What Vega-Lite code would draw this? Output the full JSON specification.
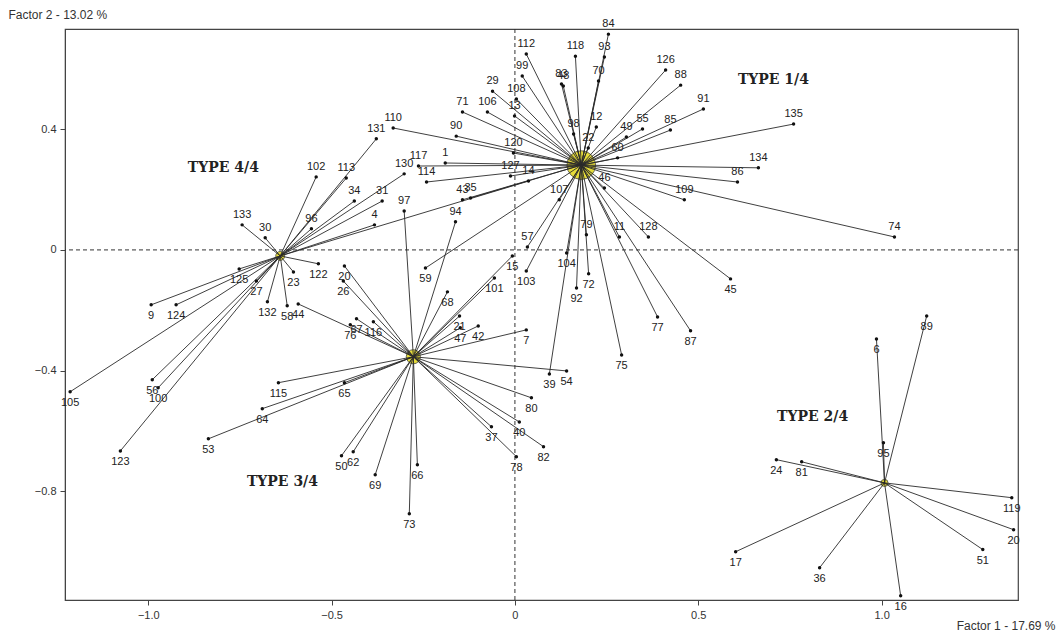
{
  "$schema": "https://vega.github.io/schema/vega-lite/v6.json",
  "width": 953,
  "height": 571,
  "autosize": {"type": "none"},
  "padding": {"left": 65, "top": 29, "right": 45, "bottom": 41},
  "background": "white",
  "config": {
    "view": {"stroke": "#444", "strokeWidth": 1.2},
    "axis": {"grid": false, "domainColor": "#444", "tickColor": "#444", "tickSize": 5, "labelPadding": 4,
      "labelFont": "Liberation Sans", "labelFontSize": 11, "labelColor": "#333",
      "titleFont": "Liberation Sans", "titleFontSize": 12, "titleFontWeight": "normal", "titleColor": "#333"}
  },
  "datasets": {
    "points": [
      {"id": "112", "x": 0.031, "y": 0.649, "type": "T1"},
      {"id": "99", "x": 0.020, "y": 0.576, "type": "T1"},
      {"id": "118", "x": 0.165, "y": 0.642, "type": "T1"},
      {"id": "84", "x": 0.255, "y": 0.715, "type": "T1"},
      {"id": "93", "x": 0.244, "y": 0.639, "type": "T1"},
      {"id": "83", "x": 0.127, "y": 0.550, "type": "T1"},
      {"id": "48", "x": 0.132, "y": 0.543, "type": "T1"},
      {"id": "70", "x": 0.228, "y": 0.560, "type": "T1"},
      {"id": "126", "x": 0.411, "y": 0.596, "type": "T1"},
      {"id": "88", "x": 0.452, "y": 0.546, "type": "T1"},
      {"id": "98", "x": 0.160, "y": 0.384, "type": "T1"},
      {"id": "12", "x": 0.222, "y": 0.407, "type": "T1"},
      {"id": "22", "x": 0.200, "y": 0.338, "type": "T1"},
      {"id": "49", "x": 0.304, "y": 0.374, "type": "T1"},
      {"id": "55", "x": 0.348, "y": 0.401, "type": "T1"},
      {"id": "85", "x": 0.424, "y": 0.397, "type": "T1"},
      {"id": "60", "x": 0.280, "y": 0.305, "type": "T1"},
      {"id": "108", "x": 0.004, "y": 0.500, "type": "T1"},
      {"id": "29", "x": -0.061, "y": 0.526, "type": "T1"},
      {"id": "13", "x": -0.001, "y": 0.444, "type": "T1"},
      {"id": "106", "x": -0.075, "y": 0.457, "type": "T1"},
      {"id": "71", "x": -0.143, "y": 0.457, "type": "T1"},
      {"id": "110", "x": -0.332, "y": 0.404, "type": "T1"},
      {"id": "90", "x": -0.160, "y": 0.377, "type": "T1"},
      {"id": "120", "x": -0.004, "y": 0.321, "type": "T1"},
      {"id": "1", "x": -0.190, "y": 0.288, "type": "T1"},
      {"id": "117", "x": -0.263, "y": 0.278, "type": "T1"},
      {"id": "127", "x": -0.012, "y": 0.245, "type": "T1"},
      {"id": "114", "x": -0.241, "y": 0.225, "type": "T1"},
      {"id": "35", "x": -0.121, "y": 0.172, "type": "T1"},
      {"id": "43", "x": -0.143, "y": 0.166, "type": "T1"},
      {"id": "46", "x": 0.244, "y": 0.205, "type": "T1"},
      {"id": "109", "x": 0.462, "y": 0.166, "type": "T1"},
      {"id": "128", "x": 0.364, "y": 0.043, "type": "T1"},
      {"id": "107", "x": 0.121, "y": 0.166, "type": "T1"},
      {"id": "57", "x": 0.034, "y": 0.010, "type": "T1"},
      {"id": "91", "x": 0.514, "y": 0.467, "type": "T1"},
      {"id": "135", "x": 0.760, "y": 0.417, "type": "T1"},
      {"id": "134", "x": 0.664, "y": 0.272, "type": "T1"},
      {"id": "86", "x": 0.607, "y": 0.225, "type": "T1"},
      {"id": "74", "x": 1.035, "y": 0.043, "type": "T1"},
      {"id": "104", "x": 0.141, "y": -0.010, "type": "T1"},
      {"id": "39", "x": 0.094, "y": -0.411, "type": "T1"},
      {"id": "79", "x": 0.195, "y": 0.050, "type": "T1"},
      {"id": "72", "x": 0.201, "y": -0.079, "type": "T1"},
      {"id": "92", "x": 0.168, "y": -0.126, "type": "T1"},
      {"id": "11", "x": 0.285, "y": 0.043, "type": "T1"},
      {"id": "77", "x": 0.389, "y": -0.222, "type": "T1"},
      {"id": "87", "x": 0.479, "y": -0.268, "type": "T1"},
      {"id": "75", "x": 0.291, "y": -0.348, "type": "T1"},
      {"id": "45", "x": 0.588, "y": -0.096, "type": "T1"},
      {"id": "103", "x": 0.031, "y": -0.070, "type": "T1"},
      {"id": "59", "x": -0.244, "y": -0.060, "type": "T1"},
      {"id": "102", "x": -0.542, "y": 0.242, "type": "T4"},
      {"id": "113", "x": -0.460, "y": 0.238, "type": "T4"},
      {"id": "34", "x": -0.438, "y": 0.162, "type": "T4"},
      {"id": "31", "x": -0.362, "y": 0.162, "type": "T4"},
      {"id": "96", "x": -0.555, "y": 0.070, "type": "T4"},
      {"id": "30", "x": -0.681, "y": 0.040, "type": "T4"},
      {"id": "133", "x": -0.744, "y": 0.083, "type": "T4"},
      {"id": "4", "x": -0.383, "y": 0.083, "type": "T4"},
      {"id": "130", "x": -0.302, "y": 0.252, "type": "T4"},
      {"id": "131", "x": -0.378, "y": 0.368, "type": "T4"},
      {"id": "125", "x": -0.752, "y": -0.063, "type": "T4"},
      {"id": "9", "x": -0.992, "y": -0.182, "type": "T4"},
      {"id": "124", "x": -0.924, "y": -0.182, "type": "T4"},
      {"id": "27", "x": -0.705, "y": -0.103, "type": "T4"},
      {"id": "105", "x": -1.213, "y": -0.470, "type": "T4"},
      {"id": "100", "x": -0.973, "y": -0.457, "type": "T4"},
      {"id": "56", "x": -0.989, "y": -0.430, "type": "T4"},
      {"id": "123", "x": -1.076, "y": -0.666, "type": "T4"},
      {"id": "132", "x": -0.675, "y": -0.172, "type": "T4"},
      {"id": "23", "x": -0.604, "y": -0.073, "type": "T4"},
      {"id": "58", "x": -0.621, "y": -0.185, "type": "T4"},
      {"id": "122", "x": -0.536, "y": -0.046, "type": "T4"},
      {"id": "14", "x": 0.037, "y": 0.228, "type": "T4"},
      {"id": "94", "x": -0.162, "y": 0.093, "type": "T3"},
      {"id": "97", "x": -0.302, "y": 0.129, "type": "T3"},
      {"id": "44", "x": -0.591, "y": -0.179, "type": "T3"},
      {"id": "20", "x": -0.465, "y": -0.053, "type": "T3"},
      {"id": "26", "x": -0.468, "y": -0.103, "type": "T3"},
      {"id": "76", "x": -0.449, "y": -0.248, "type": "T3"},
      {"id": "67", "x": -0.432, "y": -0.228, "type": "T3"},
      {"id": "116", "x": -0.386, "y": -0.238, "type": "T3"},
      {"id": "68", "x": -0.184, "y": -0.139, "type": "T3"},
      {"id": "21", "x": -0.151, "y": -0.219, "type": "T3"},
      {"id": "47", "x": -0.149, "y": -0.258, "type": "T3"},
      {"id": "42", "x": -0.100, "y": -0.252, "type": "T3"},
      {"id": "7", "x": 0.031, "y": -0.265, "type": "T3"},
      {"id": "101", "x": -0.056, "y": -0.093, "type": "T3"},
      {"id": "15", "x": -0.007, "y": -0.020, "type": "T3"},
      {"id": "54", "x": 0.141, "y": -0.401, "type": "T3"},
      {"id": "80", "x": 0.045, "y": -0.490, "type": "T3"},
      {"id": "40", "x": 0.012, "y": -0.570, "type": "T3"},
      {"id": "37", "x": -0.064, "y": -0.586, "type": "T3"},
      {"id": "78", "x": 0.004, "y": -0.685, "type": "T3"},
      {"id": "82", "x": 0.078, "y": -0.652, "type": "T3"},
      {"id": "66", "x": -0.266, "y": -0.712, "type": "T3"},
      {"id": "73", "x": -0.288, "y": -0.874, "type": "T3"},
      {"id": "69", "x": -0.381, "y": -0.745, "type": "T3"},
      {"id": "62", "x": -0.441, "y": -0.669, "type": "T3"},
      {"id": "50", "x": -0.473, "y": -0.682, "type": "T3"},
      {"id": "65", "x": -0.465, "y": -0.440, "type": "T3"},
      {"id": "115", "x": -0.645, "y": -0.440, "type": "T3"},
      {"id": "64", "x": -0.689, "y": -0.526, "type": "T3"},
      {"id": "53", "x": -0.836, "y": -0.626, "type": "T3"},
      {"id": "89", "x": 1.123, "y": -0.219, "type": "T2"},
      {"id": "6", "x": 0.986, "y": -0.295, "type": "T2"},
      {"id": "95", "x": 1.005, "y": -0.639, "type": "T2"},
      {"id": "81", "x": 0.782, "y": -0.702, "type": "T2"},
      {"id": "24", "x": 0.713, "y": -0.695, "type": "T2"},
      {"id": "119", "x": 1.355, "y": -0.821, "type": "T2"},
      {"id": "20", "x": 1.360, "y": -0.927, "type": "T2"},
      {"id": "51", "x": 1.276, "y": -0.993, "type": "T2"},
      {"id": "16", "x": 1.052, "y": -1.146, "type": "T2"},
      {"id": "36", "x": 0.831, "y": -1.053, "type": "T2"},
      {"id": "17", "x": 0.602, "y": -1.000, "type": "T2"}
    ],
    "centers": [
      {"type": "T1", "cx": 0.181, "cy": 0.281},
      {"type": "T4", "cx": -0.640, "cy": -0.020},
      {"type": "T3", "cx": -0.277, "cy": -0.354},
      {"type": "T2", "cx": 1.008, "cy": -0.772}
    ],
    "types": [
      {"name": "TYPE 1/4", "x": 0.705, "y": 0.563},
      {"name": "TYPE 4/4", "x": -0.795, "y": 0.272},
      {"name": "TYPE 3/4", "x": -0.634, "y": -0.768},
      {"name": "TYPE 2/4", "x": 0.812, "y": -0.552}
    ]
  },
  "data": {"name": "points"},
  "layer": [
    {
      "data": {"values": [{}]},
      "mark": {"type": "rule", "color": "#333", "strokeDash": [4, 3], "strokeWidth": 1},
      "encoding": {
        "x": {"datum": 0, "type": "quantitative",
          "scale": {"domain": [-1.227, 1.372], "nice": false, "zero": false},
          "axis": {"values": [-1, -0.5, 0, 0.5, 1],
            "labelExpr": "datum.value == 0 ? '0' : format(datum.value, '.1f')",
            "title": "Factor 1  -  17.69 %", "titleX": 990, "titleY": 25, "titleAlign": "right", "titleBaseline": "middle"}}
      }
    },
    {
      "data": {"values": [{}]},
      "mark": {"type": "rule", "color": "#333", "strokeDash": [4, 3], "strokeWidth": 1},
      "encoding": {
        "y": {"datum": 0, "type": "quantitative",
          "scale": {"domain": [-1.16, 0.732], "nice": false, "zero": false},
          "axis": {"values": [-0.8, -0.4, 0, 0.4],
            "labelExpr": "datum.value == 0 ? '0' : format(datum.value, '.1f')",
            "title": "Factor 2  -  13.02 %", "titleAngle": 0, "titleX": -57, "titleY": -15, "titleAlign": "left", "titleBaseline": "middle"}}
      }
    },
    {
      "data": {"name": "centers"},
      "mark": {"type": "point", "filled": true, "fill": "#e6dc3a", "stroke": "#6a6a50", "strokeWidth": 1, "opacity": 1},
      "encoding": {
        "x": {"field": "cx", "type": "quantitative"},
        "y": {"field": "cy", "type": "quantitative"},
        "size": {"condition": [
          {"test": "datum.type == 'T1'", "value": 820},
          {"test": "datum.type == 'T3'", "value": 200},
          {"test": "datum.type == 'T4'", "value": 80}
        ], "value": 50}
      }
    },
    {
      "transform": [{"lookup": "type", "from": {"data": {"name": "centers"}, "key": "type", "fields": ["cx", "cy"]}}],
      "mark": {"type": "rule", "color": "#2a2a2a", "strokeWidth": 0.9},
      "encoding": {
        "x": {"field": "x", "type": "quantitative"},
        "y": {"field": "y", "type": "quantitative"},
        "x2": {"field": "cx"},
        "y2": {"field": "cy"}
      }
    },
    {
      "mark": {"type": "circle", "color": "#111", "size": 12, "opacity": 1},
      "encoding": {
        "x": {"field": "x", "type": "quantitative"},
        "y": {"field": "y", "type": "quantitative"}
      }
    },
    {
      "transform": [{"filter": "datum.y >= 0"}],
      "mark": {"type": "text", "font": "Liberation Sans", "fontSize": 11, "color": "#222", "dy": -10, "baseline": "middle"},
      "encoding": {
        "x": {"field": "x", "type": "quantitative"},
        "y": {"field": "y", "type": "quantitative"},
        "text": {"field": "id"}
      }
    },
    {
      "transform": [{"filter": "datum.y < 0"}],
      "mark": {"type": "text", "font": "Liberation Sans", "fontSize": 11, "color": "#222", "dy": 11, "baseline": "middle"},
      "encoding": {
        "x": {"field": "x", "type": "quantitative"},
        "y": {"field": "y", "type": "quantitative"},
        "text": {"field": "id"}
      }
    },
    {
      "data": {"name": "types"},
      "mark": {"type": "text", "font": "DejaVu Serif", "fontWeight": "bold", "fontSize": 14, "color": "#222", "baseline": "middle"},
      "encoding": {
        "x": {"field": "x", "type": "quantitative"},
        "y": {"field": "y", "type": "quantitative"},
        "text": {"field": "name"}
      }
    }
  ]
}
